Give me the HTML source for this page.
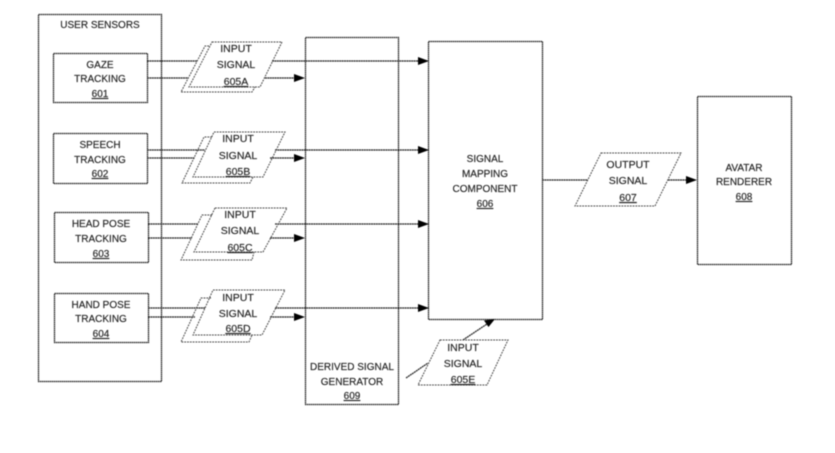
<!DOCTYPE html>
<html><head><meta charset="utf-8"><style>
html,body{margin:0;padding:0;background:#fff;width:835px;height:453px;overflow:hidden}
svg{display:block;filter:blur(.6px)}
text{font-family:"Liberation Sans",sans-serif;font-size:10px;fill:#222;stroke:#222;stroke-width:.15;text-anchor:middle}
.i{font-size:10.5px}
.u{text-decoration:underline}
.b{fill:none;stroke:#222;stroke-width:1.25;stroke-dasharray:1.6 .4}
.p{fill:none;stroke:#444;stroke-width:1;stroke-dasharray:1.8 1}
.l{fill:none;stroke:#222;stroke-width:1.2;stroke-dasharray:2 .4}
.a{fill:#000}
</style></head><body>
<svg width="835" height="453" viewBox="0 0 835 453" xmlns="http://www.w3.org/2000/svg">
<rect width="835" height="453" fill="#fff"/>
<rect class="b" x="38.5" y="14.5" width="123" height="367"/>
<rect class="b" x="53.5" y="53.5" width="94" height="49"/>
<rect class="b" x="53.5" y="133.5" width="94" height="50"/>
<rect class="b" x="54.5" y="212.5" width="94" height="50"/>
<rect class="b" x="54.5" y="293.5" width="94" height="49"/>
<rect class="b" x="305.5" y="37.5" width="93" height="367"/>
<rect class="b" x="428.5" y="41.5" width="114" height="278"/>
<rect class="b" x="697.5" y="96.5" width="94" height="168"/>

<!-- connectors -->
<path class="l" d="M147 61H197M272 61H420M147 78H188M265 78H296"/>
<path class="l" d="M147 150H205M275 150H420M147 158H195M270 158H296"/>
<path class="l" d="M148 224H198M275 224H420M148 238H192M270 238H296"/>
<path class="l" d="M148 308H205M275 308H420M148 317H195M270 317H296"/>
<path class="l" d="M542 180H588M668 180H688"/>
<path class="l" d="M406 378L428 363M463 340L487 324"/>
<path class="a" d="M305 78l-11-4v8zM305 158l-11-4v8zM305 238l-11-4v8zM305 317l-11-4v8zM429 61l-11-4v8zM429 150l-11-4v8zM429 224l-11-4v8zM429 308l-11-4v8zM697 180l-11-4v8zM495 319l-11 1.500 4.500 6.500z"/>

<!-- parallelograms -->
<path class="p" d="M209 46H205L181 92H252L255 87"/>
<path class="p" d="M212 137H204L182 183H250L253 177"/>
<path class="p" d="M212 215H202L181 260H252L254 252"/>
<path class="p" d="M211 298H201L181 342H249L252 335"/>
<path class="p" d="M212 42H282L260 87H189Z"/>
<path class="p" d="M214 132H285L263 177H193Z"/>
<path class="p" d="M215 208H287L263 252H194Z"/>
<path class="p" d="M213 290H285L262 335H193Z"/>
<path class="p" d="M440 340H508L487 385H418Z"/>
<path class="p" d="M601 153H681L655 206H575Z"/>

<!-- labels -->
<text x="100" y="28">USER SENSORS</text>
<text x="100" y="68">GAZE</text><text x="100" y="82">TRACKING</text><text class="u" x="100" y="97">601</text>
<text x="100" y="148">SPEECH</text><text x="100" y="163">TRACKING</text><text class="u" x="100" y="177">602</text>
<text x="101" y="227">HEAD POSE</text><text x="101" y="242">TRACKING</text><text class="u" x="101" y="257">603</text>
<text x="101" y="308">HAND POSE</text><text x="101" y="322">TRACKING</text><text class="u" x="101" y="337">604</text>

<text class="i" x="236" y="52">INPUT</text><text class="i" x="236" y="68">SIGNAL</text><text class="i u" x="236" y="85">605A</text>
<text class="i" x="238" y="142">INPUT</text><text class="i" x="238" y="159">SIGNAL</text><text class="i u" x="238" y="175">605B</text>
<text class="i" x="240" y="218">INPUT</text><text class="i" x="240" y="234">SIGNAL</text><text class="i u" x="240" y="251">605C</text>
<text class="i" x="238" y="301">INPUT</text><text class="i" x="238" y="317">SIGNAL</text><text class="i u" x="238" y="332">605D</text>
<text class="i" x="463" y="351">INPUT</text><text class="i" x="463" y="367">SIGNAL</text><text class="i u" x="463" y="383">605E</text>
<text class="i" x="628" y="168">OUTPUT</text><text class="i" x="628" y="184">SIGNAL</text><text class="i u" x="628" y="201">607</text>

<text x="485" y="162">SIGNAL</text><text x="485" y="177">MAPPING</text><text x="485" y="192">COMPONENT</text><text class="u" x="485" y="207">606</text>
<text x="744" y="171">AVATAR</text><text x="744" y="185">RENDERER</text><text class="u" x="744" y="200">608</text>
<text x="352" y="370">DERIVED SIGNAL</text><text x="352" y="385">GENERATOR</text><text class="u" x="352" y="399">609</text>
</svg>
</body></html>
